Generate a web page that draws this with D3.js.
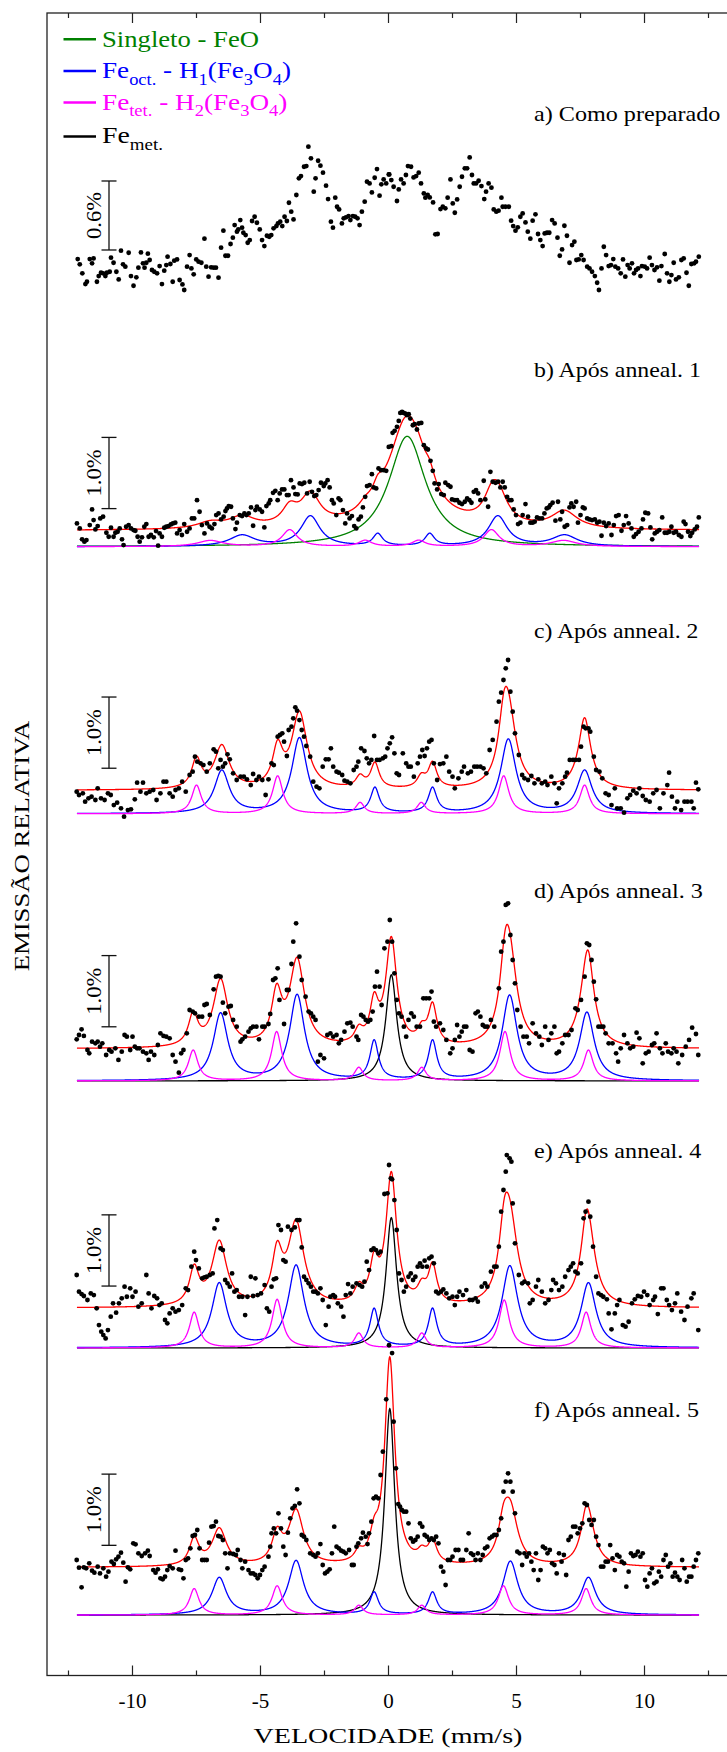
<!DOCTYPE html>
<html>
<head>
<meta charset="utf-8">
<script src="https://cdn.jsdelivr.net/npm/d3@7"></script>
<style>
  body { margin: 0; background: #fff; }
  svg { display: block; }
</style>
</head>
<body>
<script>
// ---------- data ----------
const panelTitles = ["a) Como preparado", "b) Após anneal. 1", "c) Após anneal. 2",
                     "d) Após anneal. 3", "e) Após anneal. 4", "f) Após anneal. 5"];
const scaleBarValue = [0.6, 1.0, 1.0, 1.0, 1.0, 1.0];   // % emission shown by each bar
const scaleBarStart = [0.174, 0.535, 0.64, 0.76, 0.87, 0.98];
const fitBackground = [null, 0.225, 0.33, 0.45, 0.56, 0.67];
const majorTicks = [-10, -5, 0, 5, 10];
const minorTicks = [-12.5, -7.5, -2.5, 2.5, 7.5, 12.5];

// Lorentzian lines: [centre (mm/s), FWHM (mm/s), height (%)]
const singletFeO = [null, [[0.75, 1.75, 1.55]], null, null, null, null];
const sextetH1 = [null,
  [[-5.70, 1.2, 0.155], [-3.03, 0.9, 0.425], [-0.40, 0.45, 0.17], [1.63, 0.45, 0.17], [4.29, 0.9, 0.425], [6.90, 1.2, 0.155]],
  [[-6.49, 0.70, 0.60], [-3.46, 0.72, 1.06], [-0.51, 0.40, 0.35], [1.74, 0.40, 0.35], [4.70, 0.72, 1.04], [7.68, 0.70, 0.60]],
  [[-6.54, 0.68, 0.94], [-3.55, 0.70, 1.20], [-0.54, 0.40, 0.55], [1.74, 0.40, 0.55], [4.75, 0.70, 1.19], [7.77, 0.68, 0.95]],
  [[-6.59, 0.70, 0.90], [-3.59, 0.74, 1.15], [-0.54, 0.40, 0.53], [1.74, 0.40, 0.53], [4.76, 0.74, 1.14], [7.83, 0.70, 0.90]],
  [[-6.59, 0.68, 0.52], [-3.59, 0.70, 0.76], [-0.54, 0.40, 0.31], [1.74, 0.40, 0.31], [4.78, 0.70, 0.75], [7.83, 0.68, 0.52]]
];
const sextetH2 = [null,
  [[-6.94, 1.2, 0.085], [-3.84, 0.72, 0.235], [-0.89, 0.6, 0.085], [1.20, 0.6, 0.085], [4.04, 0.72, 0.235], [6.86, 1.2, 0.085]],
  [[-7.48, 0.45, 0.40], [-4.31, 0.48, 0.53], [-1.09, 0.40, 0.155], [1.30, 0.40, 0.155], [4.52, 0.48, 0.53], [7.68, 0.45, 0.40]],
  [[-7.61, 0.45, 0.43], [-4.35, 0.48, 0.69], [-1.14, 0.40, 0.185], [1.32, 0.40, 0.185], [4.57, 0.48, 0.69], [7.83, 0.45, 0.43]],
  [[-7.57, 0.45, 0.50], [-4.33, 0.48, 0.68], [-1.14, 0.40, 0.205], [1.32, 0.40, 0.205], [4.54, 0.48, 0.67], [7.74, 0.45, 0.50]],
  [[-7.57, 0.45, 0.37], [-4.33, 0.48, 0.41], [-1.14, 0.40, 0.135], [1.32, 0.40, 0.135], [4.51, 0.48, 0.41], [7.74, 0.45, 0.37]]
];
const singletFeMet = [null, null, null, [[0.13, 0.52, 1.49]], [[0.13, 0.50, 1.83]], [[0.07, 0.47, 2.90]]];

// measured spectra: [velocity (mm/s), relative emission (%)]
const spectrumA = [
  [-12.12,0.095],[-12.04,0.049],[-11.94,-0.029],[-11.82,-0.122],[-11.76,-0.102],[-11.65,0.095],[-11.56,0.058],[-11.50,0.101],
  [-11.37,-0.102],[-11.30,-0.053],[-11.21,-0.024],[-11.13,-0.029],[-11.04,-0.053],[-10.98,-0.024],[-10.87,-0.015],[-10.82,0.107],
  [-10.72,0.063],[-10.61,-0.015],[-10.52,-0.082],[-10.43,0.168],[-10.35,0.049],[-10.26,0.029],[-10.13,0.150],[-10.04,-0.053],
  [-9.94,-0.137],[-9.83,-0.064],[-9.75,0.020],[-9.65,0.153],[-9.57,0.058],[-9.51,0.020],[-9.44,0.063],[-9.38,0.142],
  [-9.31,0.087],[-9.22,0.000],[-9.13,-0.015],[-9.02,-0.029],[-8.92,0.034],[-8.83,-0.122],[-8.74,-0.006],[-8.66,0.043],
  [-8.61,0.116],[-8.50,0.052],[-8.41,-0.102],[-8.35,0.081],[-8.24,0.092],[-8.14,-0.087],[-8.03,-0.125],[-7.96,-0.174],
  [-7.85,0.029],[-7.75,0.130],[-7.68,0.014],[-7.59,-0.038],[-7.49,0.092],[-7.40,0.072],[-7.29,0.063],[-7.17,0.272],
  [-7.10,0.029],[-7.01,-0.058],[-6.91,0.023],[-6.81,0.020],[-6.72,0.020],[-6.62,-0.067],[-6.52,0.194],[-6.43,0.342],
  [-6.35,0.124],[-6.25,0.124],[-6.15,0.226],[-6.06,0.281],[-5.99,0.391],[-5.90,0.333],[-5.85,0.353],[-5.77,0.434],
  [-5.70,0.368],[-5.65,0.324],[-5.56,0.304],[-5.48,0.237],[-5.40,0.260],[-5.31,0.426],[-5.21,0.463],[-5.12,0.411],
  [-5.01,0.353],[-4.92,0.260],[-4.83,0.208],[-4.73,0.298],[-4.64,0.289],[-4.56,0.304],[-4.47,0.362],[-4.36,0.382],
  [-4.30,0.405],[-4.21,0.420],[-4.13,0.382],[-4.04,0.463],[-3.95,0.426],[-3.87,0.585],[-3.78,0.507],[-3.69,0.440],
  [-3.58,0.652],[-3.48,0.797],[-3.40,0.817],[-3.28,0.898],[-3.19,0.904],[-3.11,1.072],[-3.01,0.971],[-2.90,0.681],
  [-2.83,0.797],[-2.73,0.950],[-2.64,0.907],[-2.54,0.846],[-2.42,0.733],[-2.34,0.617],[-2.23,0.420],[-2.15,0.368],
  [-2.06,0.629],[-1.99,0.550],[-1.91,0.527],[-1.80,0.405],[-1.73,0.449],[-1.64,0.458],[-1.54,0.469],[-1.47,0.434],
  [-1.37,0.469],[-1.28,0.463],[-1.19,0.449],[-1.11,0.391],[-1.02,0.507],[-0.91,0.594],[-0.82,0.768],[-0.72,0.753],
  [-0.63,0.675],[-0.52,0.802],[-0.43,0.878],[-0.33,0.646],[-0.26,0.745],[-0.17,0.788],[-0.07,0.753],[0.03,0.831],
  [0.05,0.831],[0.13,0.782],[0.22,0.724],[0.35,0.600],[0.42,0.701],[0.51,0.788],[0.61,0.753],[0.70,0.826],
  [0.78,0.904],[0.90,0.898],[1.00,0.805],[1.10,0.817],[1.20,0.846],[1.29,0.753],[1.40,0.666],[1.46,0.629],
  [1.55,0.652],[1.63,0.631],[1.76,0.588],[1.85,0.310],[1.94,0.313],[2.05,0.530],[2.14,0.550],[2.24,0.536],
  [2.33,0.629],[2.44,0.788],[2.53,0.579],[2.61,0.498],[2.70,0.614],[2.80,0.724],[2.89,0.811],[3.00,0.884],
  [3.09,0.884],[3.19,0.979],[3.28,0.826],[3.35,0.753],[3.44,0.753],[3.54,0.776],[3.65,0.730],[3.76,0.617],
  [3.83,0.681],[3.93,0.753],[4.04,0.716],[4.13,0.527],[4.23,0.507],[4.32,0.516],[4.43,0.629],[4.48,0.550],
  [4.59,0.550],[4.72,0.550],[4.81,0.429],[4.89,0.382],[4.98,0.342],[5.07,0.371],[5.17,0.463],[5.26,0.492],
  [5.37,0.414],[5.46,0.333],[5.56,0.272],[5.65,0.429],[5.76,0.484],[5.86,0.313],[5.95,0.260],[6.04,0.208],
  [6.12,0.318],[6.21,0.324],[6.30,0.324],[6.41,0.434],[6.51,0.405],[6.62,0.281],[6.71,0.124],[6.80,0.179],
  [6.89,0.385],[6.99,0.298],[7.09,0.063],[7.19,0.217],[7.28,0.246],[7.36,0.087],[7.45,0.092],[7.55,0.130],
  [7.64,0.087],[7.78,0.029],[7.87,0.014],[7.97,-0.015],[8.08,-0.053],[8.17,-0.111],[8.24,-0.174],[8.34,0.014],
  [8.43,0.202],[8.52,0.130],[8.62,0.034],[8.71,0.043],[8.80,0.095],[8.88,0.029],[8.99,0.014],[9.09,-0.029],
  [9.18,0.092],[9.27,-0.058],[9.36,0.043],[9.44,0.014],[9.53,0.058],[9.61,-0.029],[9.69,0.000],[9.77,0.014],
  [9.86,-0.053],[9.92,0.034],[10.03,0.029],[10.12,0.014],[10.22,0.107],[10.31,0.043],[10.41,0.000],[10.51,0.023],
  [10.60,-0.093],[10.68,0.034],[10.81,0.139],[10.90,-0.029],[10.99,-0.102],[11.07,-0.044],[11.16,0.063],[11.25,-0.082],
  [11.36,-0.064],[11.46,0.087],[11.55,0.101],[11.66,-0.024],[11.75,-0.137],[11.85,0.052],[11.96,0.058],[12.03,0.072],
  [12.14,0.116]
];
const spectrumB = [
  [-12.15,0.327],[-12.04,0.257],[-11.95,0.103],[-11.86,0.070],[-11.78,0.093],[-11.65,0.304],[-11.56,0.524],[-11.50,0.374],
  [-11.43,0.243],[-11.34,0.290],[-11.24,0.397],[-11.13,0.421],[-11.00,0.196],[-10.91,0.140],[-10.82,0.266],[-10.72,0.140],
  [-10.65,0.196],[-10.56,0.210],[-10.48,0.257],[-10.39,0.103],[-10.33,0.023],[-10.23,0.280],[-10.13,0.304],[-10.04,0.257],
  [-9.94,0.234],[-9.87,0.224],[-9.78,0.140],[-9.70,0.070],[-9.61,0.131],[-9.52,0.280],[-9.44,0.318],[-9.35,0.140],
  [-9.26,0.164],[-9.15,0.131],[-9.06,0.220],[-8.98,0.014],[-8.92,0.187],[-8.83,0.140],[-8.74,0.266],[-8.66,0.280],
  [-8.57,0.290],[-8.48,0.313],[-8.40,0.327],[-8.31,0.337],[-8.24,0.187],[-8.14,0.234],[-8.05,0.164],[-7.96,0.318],
  [-7.85,0.210],[-7.75,0.257],[-7.66,0.397],[-7.57,0.397],[-7.46,0.654],[-7.36,0.491],[-7.27,0.304],[-7.17,0.187],
  [-7.07,0.327],[-6.97,0.280],[-6.88,0.257],[-6.78,0.318],[-6.71,0.444],[-6.62,0.468],[-6.52,0.383],[-6.42,0.421],
  [-6.35,0.500],[-6.29,0.538],[-6.22,0.570],[-6.13,0.561],[-6.06,0.397],[-5.96,0.248],[-5.90,0.337],[-5.79,0.444],
  [-5.70,0.430],[-5.61,0.468],[-5.53,0.444],[-5.44,0.468],[-5.35,0.552],[-5.27,0.294],[-5.18,0.514],[-5.12,0.561],
  [-5.01,0.524],[-4.92,0.491],[-4.83,0.271],[-4.75,0.570],[-4.66,0.608],[-4.60,0.654],[-4.49,0.757],[-4.40,0.785],
  [-4.31,0.654],[-4.23,0.748],[-4.14,0.804],[-4.05,0.804],[-3.95,0.725],[-3.88,0.725],[-3.79,0.935],[-3.69,0.832],
  [-3.62,0.739],[-3.53,0.734],[-3.45,0.888],[-3.36,0.879],[-3.27,0.898],[-3.16,0.748],[-3.06,0.912],[-2.97,0.771],
  [-2.88,0.711],[-2.80,0.725],[-2.71,0.795],[-2.62,0.898],[-2.51,0.851],[-2.45,0.888],[-2.36,0.935],[-2.28,0.832],
  [-2.19,0.654],[-2.12,0.608],[-2.02,0.444],[-1.93,0.678],[-1.86,0.654],[-1.76,0.514],[-1.67,0.327],[-1.60,0.468],
  [-1.50,0.397],[-1.41,0.430],[-1.32,0.290],[-1.24,0.257],[-1.15,0.383],[-1.06,0.421],[-0.98,0.552],[-0.89,0.701],
  [-0.82,0.851],[-0.72,0.865],[-0.63,1.019],[-0.56,0.832],[-0.46,0.818],[-0.37,1.099],[-0.27,1.075],[-0.17,1.075],
  [-0.07,1.066],[0.03,1.402],[0.13,1.412],[0.18,1.599],[0.26,1.627],[0.35,1.683],[0.42,1.767],[0.48,1.879],
  [0.55,1.893],[0.61,1.879],[0.68,1.870],[0.74,1.847],[0.81,1.861],[0.87,1.800],[0.97,1.706],[1.04,1.720],
  [1.13,1.646],[1.20,1.730],[1.30,1.739],[1.40,1.426],[1.49,1.379],[1.56,1.365],[1.66,1.206],[1.75,1.066],
  [1.82,0.888],[1.92,0.804],[1.98,0.879],[2.08,0.739],[2.18,0.725],[2.24,0.898],[2.35,0.865],[2.44,0.842],
  [2.50,0.664],[2.61,0.654],[2.70,0.654],[2.79,0.617],[2.89,0.598],[3.00,0.631],[3.09,0.678],[3.18,0.654],
  [3.26,0.617],[3.35,0.771],[3.44,0.795],[3.52,0.748],[3.61,0.654],[3.74,0.926],[3.80,0.664],[3.91,0.561],
  [4.00,1.052],[4.09,0.912],[4.20,0.898],[4.30,0.912],[4.39,0.832],[4.48,0.912],[4.56,0.832],[4.65,0.701],
  [4.74,0.654],[4.82,0.654],[4.91,0.524],[5.00,0.444],[5.08,0.318],[5.17,0.337],[5.26,0.444],[5.37,0.598],
  [5.47,0.421],[5.56,0.337],[5.65,0.337],[5.73,0.351],[5.82,0.411],[5.91,0.397],[6.02,0.397],[6.11,0.468],
  [6.20,0.538],[6.28,0.552],[6.34,0.584],[6.43,0.617],[6.54,0.365],[6.64,0.631],[6.73,0.383],[6.80,0.491],
  [6.90,0.280],[7.00,0.304],[7.09,0.552],[7.16,0.608],[7.25,0.561],[7.35,0.631],[7.42,0.337],[7.52,0.444],
  [7.61,0.552],[7.68,0.538],[7.78,0.397],[7.87,0.383],[7.97,0.374],[8.08,0.383],[8.17,0.337],[8.26,0.351],
  [8.34,0.154],[8.43,0.337],[8.52,0.290],[8.62,0.327],[8.73,0.164],[8.82,0.304],[8.91,0.430],[9.01,0.444],
  [9.12,0.224],[9.21,0.304],[9.30,0.430],[9.40,0.327],[9.51,0.257],[9.60,0.140],[9.69,0.178],[9.79,0.210],
  [9.90,0.257],[9.96,0.383],[10.05,0.477],[10.16,0.468],[10.25,0.271],[10.32,0.103],[10.42,0.187],[10.51,0.210],
  [10.60,0.234],[10.71,0.411],[10.81,0.196],[10.90,0.196],[10.99,0.210],[11.07,0.280],[11.16,0.196],[11.25,0.210],
  [11.36,0.164],[11.46,0.140],[11.55,0.351],[11.62,0.318],[11.72,0.210],[11.81,0.150],[11.88,0.196],[11.98,0.243],
  [12.07,0.280],[12.14,0.411]
];
const spectrumC = [
  [-12.16,0.311],[-12.07,0.264],[-11.92,0.287],[-11.83,0.170],[-11.70,0.217],[-11.58,0.241],[-11.43,0.194],[-11.34,0.358],
  [-11.21,0.217],[-11.07,0.194],[-10.94,0.287],[-10.83,0.264],[-10.71,0.123],[-10.58,0.156],[-10.43,0.077],[-10.31,-0.040],
  [-10.16,0.053],[-10.04,0.063],[-9.89,0.203],[-9.80,0.437],[-9.67,0.311],[-9.57,0.437],[-9.44,0.287],[-9.31,0.311],
  [-9.17,0.334],[-9.04,0.194],[-8.89,0.287],[-8.77,0.451],[-8.66,0.451],[-8.53,0.287],[-8.41,0.241],[-8.30,0.334],
  [-8.17,0.358],[-8.04,0.451],[-7.90,0.311],[-7.75,0.545],[-7.63,0.592],[-7.54,0.802],[-7.45,0.732],[-7.32,0.709],
  [-7.21,0.685],[-7.08,0.592],[-6.96,0.709],[-6.81,0.906],[-6.72,0.873],[-6.63,0.639],[-6.54,0.756],[-6.45,0.662],
  [-6.36,0.709],[-6.27,0.835],[-6.18,0.765],[-6.05,0.568],[-5.91,0.475],[-5.76,0.521],[-5.63,0.521],[-5.51,0.484],
  [-5.36,0.404],[-5.27,0.559],[-5.14,0.475],[-5.04,0.521],[-4.91,0.475],[-4.78,0.264],[-4.67,0.484],[-4.55,0.709],
  [-4.46,0.685],[-4.31,1.083],[-4.22,1.107],[-4.13,1.130],[-4.06,1.013],[-3.95,0.812],[-3.88,1.177],[-3.77,1.224],
  [-3.70,1.341],[-3.62,1.495],[-3.55,1.449],[-3.46,1.317],[-3.37,1.177],[-3.28,1.083],[-3.19,0.952],[-3.04,0.802],
  [-2.92,0.451],[-2.79,0.381],[-2.68,0.358],[-2.55,0.662],[-2.43,0.765],[-2.32,0.765],[-2.23,0.919],[-2.14,0.662],
  [-2.01,0.592],[-1.92,0.578],[-1.79,0.545],[-1.70,0.465],[-1.59,0.451],[-1.47,0.428],[-1.34,0.615],[-1.23,0.662],
  [-1.16,0.732],[-1.05,0.919],[-0.92,0.882],[-0.83,0.779],[-0.74,0.709],[-0.65,0.756],[-0.54,1.093],[-0.43,0.756],
  [-0.33,0.756],[-0.20,0.779],[-0.11,0.802],[-0.02,0.919],[0.07,0.990],[0.16,1.074],[0.25,0.849],[0.34,0.568],
  [0.43,0.545],[0.58,0.849],[0.71,0.709],[0.80,0.662],[0.89,0.662],[1.01,0.521],[1.16,0.709],[1.25,0.802],
  [1.34,0.896],[1.43,0.812],[1.52,0.919],[1.61,1.013],[1.70,1.037],[1.79,0.709],[1.92,0.475],[2.03,0.699],
  [2.16,0.709],[2.28,0.802],[2.39,0.592],[2.52,0.521],[2.61,0.358],[2.75,0.498],[2.88,0.592],[2.97,0.662],
  [3.12,0.568],[3.24,0.592],[3.37,0.662],[3.48,0.662],[3.61,0.662],[3.73,0.639],[3.84,0.568],[3.97,0.896],
  [4.09,1.037],[4.24,1.294],[4.33,1.575],[4.42,1.701],[4.51,1.879],[4.60,2.043],[4.69,2.160],[4.78,1.715],
  [4.87,1.434],[4.96,1.130],[5.11,0.826],[5.24,0.545],[5.33,0.498],[5.47,0.475],[5.60,0.531],[5.72,0.428],
  [5.87,0.484],[6.01,0.428],[6.14,0.451],[6.23,0.404],[6.38,0.521],[6.50,0.428],[6.59,0.147],[6.68,0.358],
  [6.81,0.428],[6.92,0.521],[6.99,0.578],[7.10,0.756],[7.23,0.756],[7.32,0.756],[7.46,0.756],[7.54,0.943],
  [7.64,1.224],[7.72,1.200],[7.83,1.200],[7.90,1.154],[8.04,0.802],[8.13,0.615],[8.26,0.592],[8.37,0.498],
  [8.50,0.287],[8.62,0.264],[8.73,0.123],[8.86,0.358],[8.95,0.077],[9.09,0.077],[9.22,0.016],[9.35,0.217],
  [9.46,0.264],[9.58,0.325],[9.71,0.287],[9.82,0.358],[9.95,0.250],[10.07,0.194],[10.22,0.170],[10.36,0.287],
  [10.49,0.334],[10.62,0.077],[10.76,0.287],[10.91,0.404],[10.98,0.578],[11.09,0.241],[11.21,0.077],[11.30,0.170],
  [11.45,0.053],[11.58,0.170],[11.70,0.170],[11.85,0.170],[11.94,0.077],[12.03,0.437],[12.12,0.344]
];
const spectrumD = [
  [-12.16,0.584],[-12.07,0.645],[-11.97,0.724],[-11.88,0.631],[-11.74,0.434],[-11.67,0.387],[-11.56,0.551],[-11.43,0.528],
  [-11.34,0.551],[-11.25,0.481],[-11.16,0.528],[-11.01,0.364],[-10.89,0.434],[-10.80,0.411],[-10.65,0.458],[-10.53,0.294],
  [-10.40,0.411],[-10.29,0.645],[-10.20,0.621],[-10.07,0.434],[-9.98,0.621],[-9.89,0.481],[-9.80,0.458],[-9.71,0.458],
  [-9.57,0.411],[-9.44,0.387],[-9.35,0.294],[-9.26,0.411],[-9.13,0.364],[-8.99,0.504],[-8.89,0.668],[-8.77,0.631],
  [-8.66,0.621],[-8.53,0.598],[-8.41,0.364],[-8.30,0.270],[-8.17,0.116],[-8.08,0.387],[-7.99,0.434],[-7.86,0.668],
  [-7.75,0.996],[-7.63,0.973],[-7.54,0.949],[-7.39,0.902],[-7.26,0.902],[-7.17,1.066],[-7.08,1.080],[-6.96,0.926],
  [-6.81,1.286],[-6.72,1.464],[-6.63,1.474],[-6.54,1.464],[-6.45,1.099],[-6.36,0.949],[-6.23,1.043],[-6.14,1.052],
  [-6.05,0.856],[-5.91,0.762],[-5.76,0.551],[-5.69,0.584],[-5.58,0.621],[-5.45,0.692],[-5.36,0.739],[-5.27,0.762],
  [-5.14,0.762],[-5.04,0.584],[-4.91,0.762],[-4.82,0.762],[-4.67,0.799],[-4.60,0.940],[-4.49,1.417],[-4.40,1.441],
  [-4.31,1.581],[-4.24,1.137],[-4.06,0.799],[-3.95,1.277],[-3.88,1.277],[-3.77,1.642],[-3.70,1.956],[-3.59,2.213],
  [-3.46,1.745],[-3.37,1.417],[-3.22,1.183],[-3.10,0.973],[-3.01,0.949],[-2.92,0.902],[-2.83,0.856],[-2.74,0.270],
  [-2.64,0.364],[-2.50,0.317],[-2.37,0.645],[-2.25,0.668],[-2.14,0.621],[-2.01,0.645],[-1.92,0.528],[-1.83,0.575],
  [-1.70,0.692],[-1.59,0.809],[-1.47,0.818],[-1.38,0.762],[-1.23,0.621],[-1.16,0.575],[-1.05,0.926],[-0.96,0.902],
  [-0.87,0.856],[-0.78,0.832],[-0.69,0.856],[-0.60,0.973],[-0.51,1.324],[-0.43,1.534],[-0.33,1.324],[-0.25,1.066],
  [-0.14,1.862],[-0.02,1.956],[0.07,2.260],[0.16,1.956],[0.25,1.511],[0.34,1.137],[0.43,0.949],[0.53,0.902],
  [0.62,0.762],[0.71,0.621],[0.80,0.856],[0.91,0.949],[1.01,0.902],[1.12,0.762],[1.25,0.762],[1.38,1.160],
  [1.49,1.160],[1.61,1.160],[1.70,1.254],[1.79,0.832],[1.88,0.762],[2.03,0.809],[2.16,0.715],[2.28,0.575],
  [2.43,0.387],[2.52,0.458],[2.61,0.575],[2.70,0.785],[2.79,0.621],[2.88,0.692],[2.97,0.762],[3.06,0.762],
  [3.19,0.434],[3.30,0.411],[3.42,0.949],[3.51,0.973],[3.61,0.902],[3.70,0.785],[3.79,0.762],[3.88,0.762],
  [4.02,0.856],[4.15,0.762],[4.33,1.300],[4.42,1.815],[4.51,1.956],[4.60,2.471],[4.69,2.494],[4.78,2.049],
  [4.87,1.698],[4.96,1.371],[5.05,0.996],[5.18,0.762],[5.29,0.621],[5.42,0.621],[5.51,0.528],[5.65,0.809],
  [5.78,0.668],[5.91,0.621],[6.01,0.504],[6.14,0.762],[6.27,0.575],[6.38,0.668],[6.50,0.762],[6.59,0.387],
  [6.68,0.411],[6.81,0.528],[6.92,0.645],[7.05,0.645],[7.17,0.715],[7.32,1.019],[7.41,0.996],[7.54,1.137],
  [7.68,1.464],[7.77,1.932],[7.86,1.909],[7.95,1.698],[8.04,1.394],[8.13,1.146],[8.22,0.762],[8.32,0.762],
  [8.41,0.762],[8.50,0.668],[8.62,0.528],[8.77,0.528],[8.91,0.387],[8.99,0.270],[9.09,0.458],[9.22,0.645],
  [9.35,0.528],[9.46,0.458],[9.58,0.481],[9.71,0.678],[9.82,0.598],[9.95,0.247],[10.07,0.387],[10.18,0.411],
  [10.31,0.504],[10.40,0.528],[10.49,0.668],[10.62,0.458],[10.72,0.387],[10.85,0.528],[10.94,0.411],[11.07,0.387],
  [11.16,0.458],[11.27,0.411],[11.34,0.247],[11.49,0.364],[11.63,0.481],[11.76,0.575],[11.88,0.748],[12.03,0.659],
  [12.12,0.364]
];
const spectrumE = [
  [-12.16,1.025],[-12.07,0.791],[-11.97,0.758],[-11.88,0.730],[-11.74,0.674],[-11.61,0.767],[-11.49,0.744],[-11.38,0.557],
  [-11.29,0.322],[-11.20,0.229],[-11.12,0.182],[-11.03,0.135],[-10.94,0.252],[-10.83,0.440],[-10.74,0.627],[-10.62,0.496],
  [-10.51,0.627],[-10.40,0.697],[-10.29,0.861],[-10.20,0.720],[-10.07,0.838],[-9.98,0.720],[-9.86,0.791],[-9.75,0.580],
  [-9.62,0.627],[-9.44,1.025],[-9.35,0.767],[-9.24,0.557],[-9.13,0.730],[-9.02,0.697],[-8.93,0.603],[-8.84,0.627],
  [-8.71,0.393],[-8.62,0.346],[-8.53,0.486],[-8.41,0.557],[-8.30,0.510],[-8.17,0.533],[-8.04,0.603],[-7.90,0.838],
  [-7.81,0.814],[-7.68,1.142],[-7.57,1.353],[-7.50,1.235],[-7.39,1.118],[-7.26,0.978],[-7.17,0.992],[-7.08,1.001],
  [-6.96,1.025],[-6.85,1.048],[-6.78,1.680],[-6.67,1.797],[-6.54,1.399],[-6.45,1.376],[-6.36,0.955],[-6.27,0.908],
  [-6.18,0.861],[-6.09,1.048],[-6.00,0.791],[-5.91,0.814],[-5.82,0.720],[-5.69,0.720],[-5.58,0.463],[-5.49,0.720],
  [-5.36,1.001],[-5.27,0.730],[-5.18,0.978],[-5.09,0.744],[-4.96,0.767],[-4.82,0.884],[-4.73,0.557],[-4.64,0.510],
  [-4.55,0.861],[-4.46,0.964],[-4.37,0.978],[-4.28,1.727],[-4.18,1.657],[-4.09,1.235],[-4.00,1.212],[-3.91,1.704],
  [-3.77,1.657],[-3.64,1.694],[-3.55,1.797],[-3.46,1.797],[-3.37,1.413],[-3.28,1.001],[-3.19,0.955],[-3.10,0.908],
  [-3.01,0.861],[-2.92,0.791],[-2.83,0.791],[-2.74,0.767],[-2.64,0.838],[-2.55,0.674],[-2.43,0.322],[-2.32,0.580],
  [-2.25,0.720],[-2.14,0.744],[-2.07,0.720],[-1.96,0.627],[-1.83,0.580],[-1.74,0.440],[-1.65,0.744],[-1.56,0.898],
  [-1.47,0.767],[-1.38,0.861],[-1.23,0.908],[-1.11,0.884],[-1.01,0.861],[-0.92,0.931],[-0.83,1.212],[-0.74,1.095],
  [-0.65,1.376],[-0.56,1.399],[-0.47,1.376],[-0.38,1.329],[-0.29,1.353],[-0.14,2.163],[-0.02,2.172],[0.04,2.570],
  [0.11,2.383],[0.16,2.369],[0.25,2.078],[0.34,1.657],[0.43,1.048],[0.53,0.955],[0.62,0.791],[0.71,0.861],
  [0.80,1.001],[0.89,1.048],[0.98,0.955],[1.07,1.001],[1.16,1.142],[1.25,1.189],[1.34,1.142],[1.43,1.226],
  [1.52,1.142],[1.61,1.259],[1.70,1.282],[1.79,1.189],[1.88,0.791],[1.97,0.767],[2.07,0.791],[2.16,0.823],
  [2.28,0.767],[2.39,0.697],[2.52,0.720],[2.61,0.603],[2.70,0.720],[2.79,0.791],[2.93,0.744],[3.06,0.814],
  [3.19,0.674],[3.30,0.674],[3.42,0.697],[3.51,0.650],[3.66,0.861],[3.79,0.908],[3.88,0.861],[4.02,1.072],
  [4.15,1.142],[4.24,1.142],[4.33,1.423],[4.42,1.914],[4.51,2.219],[4.60,2.476],[4.64,2.710],[4.75,2.664],
  [4.82,2.617],[4.87,2.031],[4.96,1.470],[5.11,1.025],[5.24,0.908],[5.33,0.931],[5.47,0.908],[5.54,0.627],
  [5.65,0.674],[5.78,0.861],[5.87,0.955],[6.01,0.791],[6.14,0.627],[6.27,0.674],[6.38,0.814],[6.45,0.955],
  [6.56,0.908],[6.68,0.814],[6.81,0.861],[6.92,1.001],[7.05,1.095],[7.14,1.142],[7.23,1.189],[7.32,1.072],
  [7.41,1.048],[7.54,1.189],[7.64,1.821],[7.72,1.914],[7.83,2.055],[7.90,1.844],[8.01,1.423],[8.13,1.001],
  [8.22,0.767],[8.32,0.744],[8.41,0.720],[8.55,0.683],[8.62,0.486],[8.73,0.262],[8.86,0.486],[8.95,0.603],
  [9.04,0.674],[9.17,0.322],[9.28,0.299],[9.40,0.369],[9.53,0.627],[9.64,0.683],[9.76,0.730],[9.89,0.720],
  [10.00,0.791],[10.13,0.744],[10.22,0.603],[10.36,0.674],[10.43,0.720],[10.54,0.477],[10.67,0.838],[10.76,0.838],
  [10.89,0.674],[10.98,0.603],[11.09,0.533],[11.21,0.627],[11.30,0.767],[11.45,0.510],[11.58,0.393],[11.70,0.580],
  [11.85,0.697],[11.94,0.767],[12.12,0.252]
];
const spectrumF = [
  [-12.16,0.774],[-12.07,0.666],[-11.97,0.390],[-11.88,0.671],[-11.79,0.657],[-11.67,0.727],[-11.56,0.624],[-11.47,0.596],
  [-11.34,0.680],[-11.25,0.586],[-11.12,0.657],[-11.01,0.540],[-10.92,0.610],[-10.80,0.750],[-10.71,0.718],[-10.62,0.783],
  [-10.53,0.821],[-10.43,0.877],[-10.34,0.736],[-10.25,0.469],[-10.16,0.671],[-10.07,0.643],[-9.95,1.008],[-9.86,0.994],
  [-9.75,0.867],[-9.62,0.830],[-9.49,0.867],[-9.38,0.905],[-9.31,0.830],[-9.17,0.633],[-9.08,0.596],[-8.99,0.643],
  [-8.89,0.516],[-8.80,0.502],[-8.71,0.540],[-8.62,0.633],[-8.53,0.689],[-8.41,0.657],[-8.30,0.905],[-8.17,0.643],
  [-8.08,0.633],[-7.99,0.516],[-7.90,0.774],[-7.81,0.797],[-7.72,0.938],[-7.63,1.111],[-7.54,1.125],[-7.45,1.195],
  [-7.36,0.938],[-7.26,0.774],[-7.17,0.774],[-7.08,0.774],[-6.99,1.017],[-6.90,1.242],[-6.81,1.251],[-6.72,1.312],
  [-6.63,1.111],[-6.54,1.101],[-6.45,1.055],[-6.36,0.867],[-6.27,0.657],[-6.18,0.867],[-6.05,0.858],[-5.94,0.844],
  [-5.87,0.914],[-5.76,0.774],[-5.69,0.657],[-5.58,0.750],[-5.45,0.633],[-5.36,0.586],[-5.27,0.586],[-5.18,0.563],
  [-5.09,0.516],[-5.00,0.563],[-4.91,0.633],[-4.82,0.680],[-4.67,0.821],[-4.60,0.961],[-4.55,1.148],[-4.46,1.218],
  [-4.37,1.148],[-4.28,1.429],[-4.18,1.218],[-4.09,0.961],[-4.00,0.844],[-3.91,1.158],[-3.82,1.359],[-3.73,1.499],
  [-3.64,1.532],[-3.55,1.766],[-3.46,1.570],[-3.37,1.125],[-3.28,1.101],[-3.19,1.055],[-3.04,0.867],[-2.92,0.844],
  [-2.83,0.821],[-2.74,0.867],[-2.64,0.998],[-2.55,0.704],[-2.46,0.586],[-2.37,0.610],[-2.28,0.643],[-2.19,0.867],
  [-2.10,1.242],[-2.01,0.961],[-1.92,0.938],[-1.83,0.905],[-1.74,0.891],[-1.65,0.867],[-1.52,0.914],[-1.41,0.704],
  [-1.34,0.704],[-1.23,0.961],[-1.16,1.008],[-1.05,1.078],[-0.98,1.158],[-0.87,1.101],[-0.80,0.998],[-0.74,1.148],
  [-0.65,1.312],[-0.56,1.640],[-0.47,1.663],[-0.38,1.640],[-0.29,1.968],[-0.20,2.295],[-0.07,3.030],[0.04,3.790],
  [0.16,3.680],[0.22,2.717],[0.31,2.061],[0.40,1.560],[0.47,1.523],[0.54,1.476],[0.62,1.453],[0.71,1.453],
  [0.80,1.289],[0.89,1.078],[0.98,1.031],[1.07,1.055],[1.16,1.101],[1.25,1.289],[1.34,1.242],[1.43,1.125],
  [1.52,1.101],[1.61,1.055],[1.70,1.078],[1.79,1.055],[1.88,1.101],[1.97,1.008],[2.07,0.680],[2.16,0.610],
  [2.25,0.423],[2.34,0.774],[2.43,0.774],[2.52,0.821],[2.64,0.914],[2.75,0.914],[2.84,0.774],[2.93,0.774],
  [3.06,0.914],[3.15,1.148],[3.24,0.867],[3.33,0.844],[3.42,0.774],[3.51,0.867],[3.61,0.774],[3.70,0.844],
  [3.79,0.938],[3.88,0.961],[3.97,1.078],[4.06,1.101],[4.15,1.125],[4.24,1.125],[4.33,1.195],[4.42,1.359],
  [4.51,1.734],[4.60,1.874],[4.69,1.991],[4.78,1.874],[4.87,1.734],[4.96,1.429],[5.05,0.891],[5.14,0.867],
  [5.24,0.704],[5.33,0.867],[5.42,0.821],[5.51,0.867],[5.60,0.750],[5.69,0.633],[5.78,0.867],[5.87,0.493],
  [5.96,0.633],[6.05,0.961],[6.14,0.938],[6.23,0.867],[6.32,0.914],[6.41,0.727],[6.50,0.704],[6.59,0.586],
  [6.68,0.867],[6.78,0.750],[6.87,0.844],[6.96,0.563],[7.05,1.055],[7.14,1.101],[7.23,1.242],[7.32,1.242],
  [7.41,1.148],[7.50,1.218],[7.59,1.289],[7.68,1.570],[7.77,1.546],[7.86,1.336],[7.95,1.266],[8.04,1.336],
  [8.13,1.101],[8.22,0.984],[8.32,0.680],[8.41,0.680],[8.50,0.750],[8.59,0.750],[8.68,0.984],[8.77,0.797],
  [8.86,0.633],[8.95,0.844],[9.04,0.821],[9.13,0.750],[9.22,0.727],[9.31,0.399],[9.40,0.610],[9.49,0.867],
  [9.58,0.830],[9.67,0.844],[9.76,0.891],[9.86,0.821],[9.95,0.867],[10.04,0.493],[10.13,0.399],[10.22,0.586],
  [10.31,0.657],[10.40,0.446],[10.49,0.469],[10.58,0.610],[10.67,0.540],[10.76,0.774],[10.85,0.844],[10.94,0.680],
  [11.03,0.727],[11.12,0.540],[11.21,0.596],[11.30,0.540],[11.39,0.493],[11.49,0.774],[11.58,0.657],[11.67,0.469],
  [11.76,0.540],[11.85,0.540],[11.94,0.680],[12.03,0.774],[12.12,0.867]
];
const spectra = [spectrumA, spectrumB, spectrumC, spectrumD, spectrumE, spectrumF];

const legendEntries = [
  { color: "#008000", parts: [["Singleto - FeO", 0]] },
  { color: "#0000ff", parts: [["Fe", 0], ["oct.", 1], [" - H", 0], ["1", 1], ["(Fe", 0], ["3", 1], ["O", 0], ["4", 1], [")", 0]] },
  { color: "#ff00ff", parts: [["Fe", 0], ["tet.", 1], [" - H", 0], ["2", 1], ["(Fe", 0], ["3", 1], ["O", 0], ["4", 1], [")", 0]] },
  { color: "#000000", parts: [["Fe", 0], ["met.", 1]] }
];

// ---------- layout ----------
const SERIF = '"Liberation Serif", "DejaVu Serif", serif';
const W = 727, H = 1752;
const plotL = 47, plotR = 729, plotT = 13, plotB = 1675.5;
const panelZero = [270, 546.7, 813.8, 1080.9, 1348, 1615.1];
const panelPxPerPct = [115, 71.2, 71.2, 71.2, 71.2, 71.2];
const titleBaseline = [121, 377, 638, 898, 1158, 1417];
const titleWidth = [186.5, 167, 164.5, 169, 168, 165];

const svg = d3.select("body").append("svg").attr("width", W).attr("height", H)
  .style("font-family", SERIF);
const x = d3.scaleLinear().domain([-13.32, 13.32]).range([plotL, plotR]);

function lorentzSum(lines, v) {
  let s = 0;
  for (const [c, w, a] of lines) { const u = (v - c) / (w / 2); s += a / (1 + u * u); }
  return s;
}

function serifText(parent, size) {
  return parent.append("text").style("font-family", SERIF).style("font-size", size + "px");
}
function richText(parent, parts, size, fill) {
  const t = serifText(parent, size).attr("fill", fill);
  let inSub = false;
  parts.forEach(([s, sub]) => {
    const ts = t.append("tspan").text(s);
    if (sub) ts.style("font-size", (size * 0.68) + "px");
    if (sub && !inSub) ts.attr("dy", size * 0.28);
    if (!sub && inSub) ts.attr("dy", -size * 0.28);
    inSub = !!sub;
  });
  return t;
}
function fitWidth(t, x0, y0, width, anchor, rot) {
  t.attr("text-anchor", anchor || "start");
  const w = t.node().getBBox().width;
  const sx = width / w;
  t.attr("transform", `translate(${x0},${y0})` + (rot ? ` rotate(${rot})` : "") + ` scale(${sx},1)`);
}

// ---------- frame and axes ----------
const frame = svg.append("g").attr("fill", "none").attr("stroke", "#222").attr("stroke-width", 1.3);
frame.append("rect").attr("x", plotL).attr("y", plotT).attr("width", plotR - plotL).attr("height", plotB - plotT);

function tickAxis(gen, y, ticks, len) {
  const g = svg.append("g").attr("transform", `translate(0,${y})`)
    .call(gen(x).tickValues(ticks).tickSize(-len).tickFormat(""));
  g.select(".domain").remove();
  g.selectAll("line").attr("stroke", "#222").attr("stroke-width", 1.2);
}
tickAxis(d3.axisBottom, plotB, majorTicks, 10);
tickAxis(d3.axisBottom, plotB, minorTicks, 5);
tickAxis(d3.axisTop, plotT, majorTicks, 10);
tickAxis(d3.axisTop, plotT, minorTicks, 5);

const labels = svg.append("g").attr("transform", `translate(0,${plotB})`)
  .call(d3.axisBottom(x).tickValues(majorTicks).tickSize(0).tickFormat(d => String(d)));
labels.select(".domain").remove();
labels.selectAll("text").attr("y", 32.5).attr("dy", 0)
  .style("font-family", SERIF).style("font-size", "21px").attr("fill", "#000");

const xTitle = serifText(svg, 22).text("VELOCIDADE (mm/s)");
fitWidth(xTitle, x(0), 1743, 269, "middle");
const yTitle = serifText(svg, 22).text("EMISSÃO RELATIVA");
fitWidth(yTitle, 29, 846, 251, "middle", -90);

// ---------- panels ----------
const vGrid = d3.range(-12.15, 12.1501, 0.01);

spectra.forEach((pts, i) => {
  const y = d3.scaleLinear().domain([0, 1]).range([panelZero[i], panelZero[i] - panelPxPerPct[i]]);
  const g = svg.append("g");

  // fitted sub-spectra and their sum
  const comps = [
    [singletFeO[i], "#008000"],
    [singletFeMet[i], "#000000"],
    [sextetH1[i], "#0000ff"],
    [sextetH2[i], "#ff00ff"]
  ].filter(d => d[0]);
  const line = d3.line().x(d => x(d[0])).y(d => y(d[1]));
  comps.forEach(([lines, color]) => {
    g.append("path").datum(vGrid.map(v => [v, lorentzSum(lines, v)]))
      .attr("d", line).attr("fill", "none").attr("stroke", color).attr("stroke-width", 1.3);
  });
  if (fitBackground[i] !== null) {
    const total = vGrid.map(v => [v, fitBackground[i] + comps.reduce((s, c) => s + lorentzSum(c[0], v), 0)]);
    g.append("path").datum(total).attr("d", line)
      .attr("fill", "none").attr("stroke", "#ff0000").attr("stroke-width", 1.3);
  }

  // data points
  g.append("g").selectAll("circle").data(pts).join("circle")
    .attr("cx", d => x(d[0])).attr("cy", d => y(d[1])).attr("r", 2.4).attr("fill", "#000");

  // scale bar
  const bx = 109, y0 = y(scaleBarStart[i]), y1 = y(scaleBarStart[i] + scaleBarValue[i]);
  const bar = g.append("g").attr("stroke", "#111").attr("stroke-width", 1.3);
  bar.append("line").attr("x1", bx).attr("x2", bx).attr("y1", y0).attr("y2", y1);
  bar.append("line").attr("x1", bx - 7.5).attr("x2", bx + 7.5).attr("y1", y0).attr("y2", y0);
  bar.append("line").attr("x1", bx - 7.5).attr("x2", bx + 7.5).attr("y1", y1).attr("y2", y1);
  const bl = serifText(g, 22).text(scaleBarValue[i].toFixed(1) + "%");
  fitWidth(bl, 101, (y0 + y1) / 2, 47, "middle", -90);

  // panel title
  const tt = serifText(g, 21).text(panelTitles[i]);
  fitWidth(tt, 534, titleBaseline[i], titleWidth[i], "start");
});

// ---------- legend ----------
const legendLineY = [39.3, 71, 102.5, 136.5];
const legendBaseline = [46.5, 78, 109.5, 143];
const legendWidth = [157, 189, 185.5, 61];
legendEntries.forEach((e, k) => {
  svg.append("line").attr("x1", 63.5).attr("x2", 96).attr("y1", legendLineY[k]).attr("y2", legendLineY[k])
    .attr("stroke", e.color).attr("stroke-width", 2.4);
  const t = richText(svg, e.parts, 24, e.color);
  fitWidth(t, 102, legendBaseline[k], legendWidth[k], "start");
});
</script>
</body>
</html>
